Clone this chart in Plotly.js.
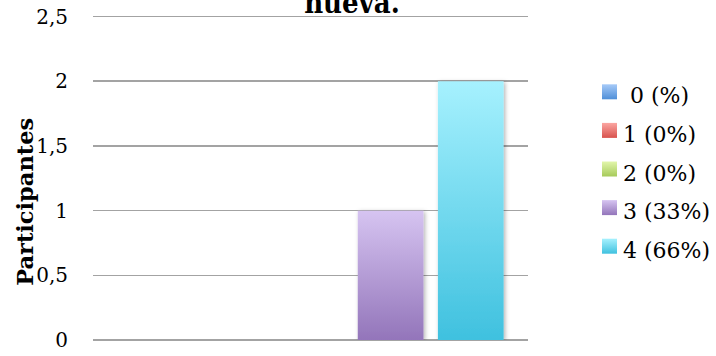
<!DOCTYPE html>
<html>
<head>
<meta charset="utf-8">
<script src="https://cdn.plot.ly/plotly-3.0.1.min.js"></script>
<style>
  html, body { margin: 0; padding: 0; background: #fff; }
  #chart { width: 716px; height: 356px; }
</style>
</head>
<body>
<div id="chart"></div>
<script>
// Data
const category = [''];
const seriesNames = ['\u00a00 (%)', '1 (0%)', '2 (0%)', '3 (33%)', '4 (66%)'];
const seriesValues = [[0], [0], [0], [1], [2]];
const tickValues = [0, 0.5, 1, 1.5, 2, 2.5];
const tickLabels = ['0', '0,5', '1', '1,5', '2', '2,5'];
const titleText = 'nueva.';
const yTitleText = 'Participantes';

// Styles
const baseColors = ['#79acea', '#ee7c78', '#c4e282', '#b59cd8', '#72d9f0'];
const gradTop = ['#a6caf8', '#fba6a2', '#e2f6ab', '#d6c4f1', '#a6f1fe'];
const gradBottom = ['#4f8fd8', '#d8524d', '#a6ca5a', '#9375ba', '#3fc1df'];
const serif = 'DejaVu Serif, serif';

const traces = seriesNames.map((name, i) => ({
  type: 'bar',
  name: name,
  x: category,
  y: seriesValues[i],
  legendgroup: 'g' + i,
  marker: { color: baseColors[i], line: { width: 0 } },
  hoverinfo: 'skip'
}));

const layout = {
  width: 716,
  height: 356,
  margin: { l: 93, r: 188, t: 14.4, b: 16, pad: 0 },
  paper_bgcolor: '#ffffff',
  plot_bgcolor: '#ffffff',
  barmode: 'group',
  bargap: 0.079,
  bargroupgap: 0.18,
  showlegend: true,
  font: { family: serif, color: '#000000', size: 20 },
  title: {
    text: titleText,
    font: { family: 'DejaVu Serif Condensed, DejaVu Serif, serif', size: 29, weight: 'bold', color: '#000000' },
    xref: 'container', yref: 'container',
    x: 0.4916, xanchor: 'center',
    y: 1 - 13 / 356, yanchor: 'bottom',
    pad: { t: 0, b: 0, l: 0, r: 0 }
  },
  xaxis: {
    type: 'category',
    showticklabels: false,
    showgrid: false,
    zeroline: false,
    showline: false,
    ticks: ''
  },
  yaxis: {
    range: [0, 2.52],
    tickmode: 'array',
    tickvals: tickValues,
    ticktext: tickLabels,
    ticks: '',
    ticklabelstandoff: 24,
    tickfont: { family: serif, size: 20, color: '#000000' },
    showgrid: true,
    gridcolor: '#a3a3a3',
    gridwidth: 1.6,
    zeroline: true,
    zerolinecolor: '#a3a3a3',
    zerolinewidth: 1.6,
    showline: false
  },
  legend: {
    xref: 'container', yref: 'container',
    x: 583 / 716, xanchor: 'left',
    y: 1 - 74 / 356, yanchor: 'top',
    traceorder: 'grouped',
    tracegroupgap: 7,
    font: { family: serif, size: 22, color: '#000000' },
    bgcolor: 'rgba(0,0,0,0)',
    borderwidth: 0,
    itemclick: false,
    itemdoubleclick: false
  },
  annotations: [{
    text: yTitleText,
    textangle: -90,
    xref: 'paper', yref: 'paper',
    x: (25.5 - 93) / 435, y: (340 - 202.5) / 325.6,
    xanchor: 'center', yanchor: 'middle',
    showarrow: false,
    font: { family: serif, size: 22.5, weight: 'bold', color: '#000000' }
  }]
};

Plotly.newPlot('chart', traces, layout, { displayModeBar: false, staticPlot: true }).then(gd => {
  const NS = 'http://www.w3.org/2000/svg';
  const svg = gd.querySelector('.main-svg');
  let defs = svg.querySelector('defs');
  if (!defs) { defs = document.createElementNS(NS, 'defs'); svg.insertBefore(defs, svg.firstChild); }
  gradTop.forEach((top, i) => {
    const lg = document.createElementNS(NS, 'linearGradient');
    lg.setAttribute('id', 'barGrad' + i);
    lg.setAttribute('x1', '0'); lg.setAttribute('y1', '0');
    lg.setAttribute('x2', '0'); lg.setAttribute('y2', '1');
    const s1 = document.createElementNS(NS, 'stop');
    s1.setAttribute('offset', '0'); s1.setAttribute('stop-color', top);
    const s2 = document.createElementNS(NS, 'stop');
    s2.setAttribute('offset', '1'); s2.setAttribute('stop-color', gradBottom[i]);
    lg.appendChild(s1); lg.appendChild(s2);
    defs.appendChild(lg);
  });
  const f = document.createElementNS(NS, 'filter');
  f.setAttribute('id', 'barShadow');
  f.setAttribute('x', '-20%'); f.setAttribute('y', '-10%');
  f.setAttribute('width', '140%'); f.setAttribute('height', '120%');
  const ds = document.createElementNS(NS, 'feDropShadow');
  ds.setAttribute('dx', '1.5'); ds.setAttribute('dy', '1');
  ds.setAttribute('stdDeviation', '2');
  ds.setAttribute('flood-color', '#000'); ds.setAttribute('flood-opacity', '0.3');
  f.appendChild(ds);
  defs.appendChild(f);

  gd.querySelectorAll('.barlayer .trace').forEach((tr, i) => {
    tr.querySelectorAll('path').forEach(p => {
      p.style.fill = 'url(#barGrad' + i + ')';
      p.setAttribute('filter', 'url(#barShadow)');
    });
  });
  gd.querySelectorAll('.legend .traces').forEach((tr, i) => {
    tr.querySelectorAll('.legendpoints path').forEach(p => {
      p.setAttribute('d', 'M7.5,7.5H-7.5V-7.5H7.5Z');
      p.style.fill = 'url(#barGrad' + i + ')';
      p.style.stroke = 'none';
      p.setAttribute('transform', 'translate(26.5,-3)');
    });
  });
  gd.querySelectorAll('.legend [clip-path]').forEach(el => el.removeAttribute('clip-path'));
});
</script>
</body>
</html>
